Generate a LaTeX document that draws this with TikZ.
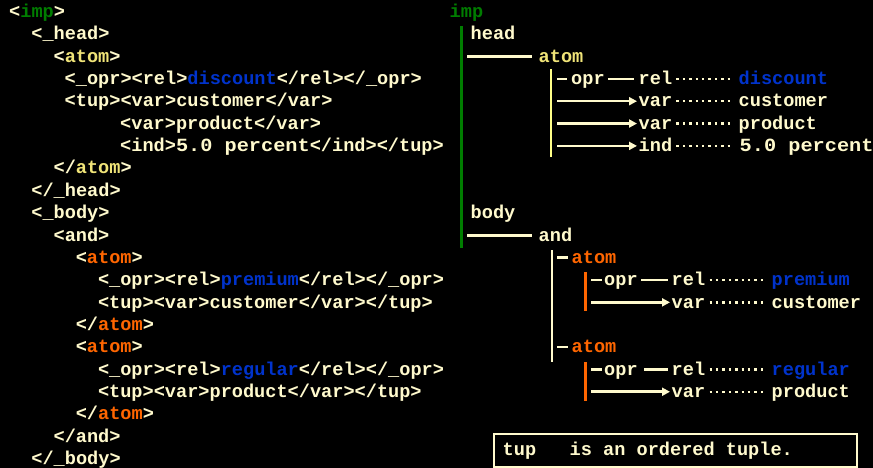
\documentclass[tikz,border=0pt]{standalone}
\usepackage{fontspec}
\setmainfont{Liberation Mono}
\usetikzlibrary{arrows.meta}
\definecolor{cream}{RGB}{255,250,205}
\definecolor{ytext}{RGB}{240,228,120}
\definecolor{ybar}{RGB}{255,255,136}
\definecolor{gcol}{RGB}{0,125,0}
\definecolor{bcol}{RGB}{0,51,204}
\definecolor{ocol}{RGB}{255,102,0}
\tikzset{
  txt/.style={anchor=base west, inner sep=0pt, text=cream, font=\fontsize{18.6}{22}\selectfont\bfseries},
  lift/.style={transform canvas={yshift=5.7pt}},
  conn/.style={lift, draw=cream, line width=2.6pt},
  dots/.style={lift, draw=cream, line width=2.4pt, dash pattern=on 2.4pt off 4pt},
  arr/.style={lift, draw=cream, line width=2.6pt, -{Triangle[length=8pt,width=8pt]}},
  vbar/.style={line width=2.6pt},
}
\newcommand{\G}[1]{\textcolor{gcol}{#1}}
\newcommand{\B}[1]{\textcolor{bcol}{#1}}
\newcommand{\Y}[1]{\textcolor{ytext}{#1}}
\newcommand{\Or}[1]{\textcolor{ocol}{#1}}
\newcommand{\pct}{\scalebox{1.09}[1]{5.0\ percent}}
\begin{document}
\begin{tikzpicture}[x=1pt,y=-1pt]
\fill[black] (0,0) rectangle (873,468);
\useasboundingbox (0,0) rectangle (873,468);
% ---------- left column: XML ----------
\node[txt] (L0) at (9,17.5) {<\G{imp}>};
\node[txt] (L1) at (31.2,39.85) {<\_head>};
\node[txt] (L2) at (53.4,62.2) {<\Y{atom}>};
\node[txt] (L3) at (64.5,84.55) {<\_opr><rel>\B{discount}</rel></\_opr>};
\node[txt] (L4) at (64.5,106.9) {<tup><var>customer</var>};
\node[txt] (L5) at (120,129.25) {<var>product</var>};
\node[txt] (L6) at (120,151.6) {<ind>\pct</ind></tup>};
\node[txt] (L7) at (53.4,173.95) {</\Y{atom}>};
\node[txt] (L8) at (31.2,196.3) {</\_head>};
\node[txt] (L9) at (31.2,218.65) {<\_body>};
\node[txt] (L10) at (53.4,241.0) {<and>};
\node[txt] (L11) at (75.6,263.35) {<\Or{atom}>};
\node[txt] (L12) at (97.8,285.7) {<\_opr><rel>\B{premium}</rel></\_opr>};
\node[txt] (L13) at (97.8,308.05) {<tup><var>customer</var></tup>};
\node[txt] (L14) at (75.6,330.4) {</\Or{atom}>};
\node[txt] (L15) at (75.6,352.75) {<\Or{atom}>};
\node[txt] (L16) at (97.8,375.1) {<\_opr><rel>\B{regular}</rel></\_opr>};
\node[txt] (L17) at (97.8,397.45) {<tup><var>product</var></tup>};
\node[txt] (L18) at (75.6,419.8) {</\Or{atom}>};
\node[txt] (L19) at (53.4,442.15) {</and>};
\node[txt] (L20) at (31.2,464.5) {</\_body>};
% ---------- right column: tree ----------
\node[txt, text=gcol] (imp) at (449.5,17.5) {imp};
\node[txt] (head) at (470.5,39.85) {head};
\node[txt, text=ytext] (atomA) at (538.5,62.2) {atom};
\node[txt] (oprA) at (571,84.55) {opr};
\node[txt] (relA) at (638.5,84.55) {rel};
\node[txt, text=bcol] (discount) at (738.5,84.55) {discount};
\node[txt] (varA1) at (638.5,106.9) {var};
\node[txt] (custA) at (738.5,106.9) {customer};
\node[txt] (varA2) at (638.5,129.25) {var};
\node[txt] (prodA) at (738.5,129.25) {product};
\node[txt] (indA) at (638.5,151.6) {ind};
\node[txt] (pct) at (739.5,151.6) {\pct};
\node[txt] (body) at (470.5,218.65) {body};
\node[txt] (and) at (538.5,241.0) {and};
\node[txt, text=ocol] (atomB) at (571.5,263.35) {atom};
\node[txt] (oprB) at (604,285.7) {opr};
\node[txt] (relB) at (671.5,285.7) {rel};
\node[txt, text=bcol] (premium) at (771.5,285.7) {premium};
\node[txt] (varB) at (671.5,308.05) {var};
\node[txt] (custB) at (771.5,308.05) {customer};
\node[txt, text=ocol] (atomC) at (571.5,352.75) {atom};
\node[txt] (oprC) at (604,375.1) {opr};
\node[txt] (relC) at (671.5,375.1) {rel};
\node[txt, text=bcol] (regular) at (771.5,375.1) {regular};
\node[txt] (varC) at (671.5,397.45) {var};
\node[txt] (prodC) at (771.5,397.45) {product};
% vertical bars
\coordinate (g1) at (461.5,26);  \coordinate (g2) at (461.5,248);
\draw[vbar, draw=gcol] (g1) -- (g2);
\coordinate (y1) at (551,69);  \coordinate (y2) at (551,157);
\draw[vbar, draw=ybar] (y1) -- (y2);
\coordinate (c1) at (552,250); \coordinate (c2) at (552,362);
\draw[vbar, draw=cream] (c1) -- (c2);
\coordinate (o1) at (585.5,272); \coordinate (o2) at (585.5,311);
\draw[vbar, draw=ocol] (o1) -- (o2);
\coordinate (o3) at (585.5,362); \coordinate (o4) at (585.5,401);
\draw[vbar, draw=ocol] (o3) -- (o4);
% head / body branches
\coordinate (hs) at (467,0);
\draw[conn, shorten >=6.5pt] (hs |- atomA.base west) -- (atomA.base west);
\draw[conn, shorten >=6.5pt] (hs |- and.base west) -- (and.base west);
% first atom
\coordinate (sA) at (557,0);
\draw[conn, shorten >=4pt] (sA |- oprA.base west) -- (oprA.base west);
\draw[conn, shorten <=3.5pt, shorten >=4.5pt] (oprA.base east) -- (relA.base west);
\draw[dots, shorten <=4pt, shorten >=5.5pt] (relA.base east) -- (discount.base west);
\draw[arr, shorten >=1.5pt] (sA |- varA1.base west) -- (varA1.base west);
\draw[dots, shorten <=4pt, shorten >=5.5pt] (varA1.base east) -- (custA.base west);
\draw[arr, shorten >=1.5pt] (sA |- varA2.base west) -- (varA2.base west);
\draw[dots, shorten <=4pt, shorten >=5.5pt] (varA2.base east) -- (prodA.base west);
\draw[arr, shorten >=1.5pt] (sA |- indA.base west) -- (indA.base west);
\draw[dots, shorten <=4pt, shorten >=6pt] (indA.base east) -- (pct.base west);
% and-branches
\draw[conn, shorten >=3.5pt] (sA |- atomB.base west) -- (atomB.base west);
\draw[conn, shorten >=3.5pt] (sA |- atomC.base west) -- (atomC.base west);
\coordinate (sB) at (591,0);
\draw[conn, shorten >=2pt] (sB |- oprB.base west) -- (oprB.base west);
\draw[conn, shorten <=3.2pt, shorten >=3.5pt] (oprB.base east) -- (relB.base west);
\draw[dots, shorten <=4.2pt, shorten >=6.5pt] (relB.base east) -- (premium.base west);
\draw[arr, shorten >=1.5pt] (sB |- varB.base west) -- (varB.base west);
\draw[dots, shorten <=4.2pt, shorten >=6.5pt] (varB.base east) -- (custB.base west);
\draw[conn, shorten >=2pt] (sB |- oprC.base west) -- (oprC.base west);
\draw[conn, shorten <=6.2pt, shorten >=3.5pt] (oprC.base east) -- (relC.base west);
\draw[dots, shorten <=4.2pt, shorten >=6.5pt] (relC.base east) -- (regular.base west);
\draw[arr, shorten >=1.5pt] (sB |- varC.base west) -- (varC.base west);
\draw[dots, shorten <=4.2pt, shorten >=6.5pt] (varC.base east) -- (prodC.base west);
% note box
\node[draw=cream, line width=2pt, anchor=north west, minimum width=363pt, minimum height=33pt, inner sep=0pt] (box) at (493,432.5) {};
\node[txt] (note) at (502.5,455) {tup\ \ \ is\ an\ ordered\ tuple.};
\end{tikzpicture}
\end{document}
